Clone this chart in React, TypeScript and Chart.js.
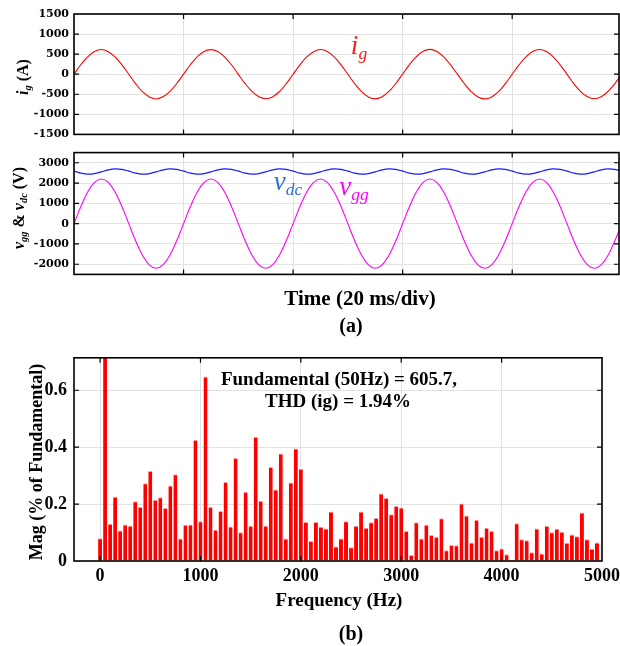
import React, { useEffect, useRef } from "react";
import { Chart, registerables } from "chart.js";
Chart.register(...registerables);

// ---------- data ----------
const timeMs = [
  0, 1.25, 2.5, 3.75, 5, 6.25, 7.5, 8.75, 10, 11.25, 12.5, 13.75, 15, 16.25, 17.5, 18.75,
  20, 21.25, 22.5, 23.75, 25, 26.25, 27.5, 28.75, 30, 31.25, 32.5, 33.75, 35, 36.25, 37.5, 38.75,
  40, 41.25, 42.5, 43.75, 45, 46.25, 47.5, 48.75, 50, 51.25, 52.5, 53.75, 55, 56.25, 57.5, 58.75,
  60, 61.25, 62.5, 63.75, 65, 66.25, 67.5, 68.75, 70, 71.25, 72.5, 73.75, 75, 76.25, 77.5, 78.75,
  80, 81.25, 82.5, 83.75, 85, 86.25, 87.5, 88.75, 90, 91.25, 92.5, 93.75, 95, 96.25, 97.5, 98.75,
  100,
];

const igAmps = [
  0, 236, 432, 566, 615, 562, 430, 232, 0, -236, -436, -566, -618, -560, -432, -232,
  2, 236, 434, 568, 612, 566, 428, 236, -4, -236, -430, -564, -610, -566, -432, -236,
  0, 234, 432, 562, 614, 566, 434, 234, -2, -238, -434, -566, -616, -562, -430, -232,
  4, 238, 436, 570, 618, 564, 430, 232, 0, -232, -432, -568, -614, -566, -434, -236,
  -2, 232, 430, 566, 616, 568, 432, 234, 2, -236, -432, -562, -612, -564, -428, -234,
  0,
];

const vggVolts = [
  0, 842, 1556, 2033, 2200, 2033, 1556, 842, 0, -842, -1556, -2033, -2200, -2033, -1556, -842,
  0, 842, 1556, 2033, 2200, 2033, 1556, 842, 0, -842, -1556, -2033, -2200, -2033, -1556, -842,
  0, 842, 1556, 2033, 2200, 2033, 1556, 842, 0, -842, -1556, -2033, -2200, -2033, -1556, -842,
  0, 842, 1556, 2033, 2200, 2033, 1556, 842, 0, -842, -1556, -2033, -2200, -2033, -1556, -842,
  0, 842, 1556, 2033, 2200, 2033, 1556, 842, 0, -842, -1556, -2033, -2200, -2033, -1556, -842,
  0,
];

const vdcVolts = [
  2586, 2490, 2441, 2467, 2554, 2650, 2699, 2673, 2586, 2490, 2441, 2467, 2554, 2650, 2699, 2673,
  2586, 2490, 2441, 2467, 2554, 2650, 2699, 2673, 2586, 2490, 2441, 2467, 2554, 2650, 2699, 2673,
  2586, 2490, 2441, 2467, 2554, 2650, 2699, 2673, 2586, 2490, 2441, 2467, 2554, 2650, 2699, 2673,
  2586, 2490, 2441, 2467, 2554, 2650, 2699, 2673, 2586, 2490, 2441, 2467, 2554, 2650, 2699, 2673,
  2586, 2490, 2441, 2467, 2554, 2650, 2699, 2673, 2586, 2490, 2441, 2467, 2554, 2650, 2699, 2673,
  2586,
];

const freqHz = [
  0, 50, 100, 150, 200, 250, 300, 350, 400, 450, 500, 550, 600, 650, 700, 750, 800, 850, 900, 950,
  1000, 1050, 1100, 1150, 1200, 1250, 1300, 1350, 1400, 1450, 1500, 1550, 1600, 1650, 1700, 1750, 1800, 1850, 1900, 1950,
  2000, 2050, 2100, 2150, 2200, 2250, 2300, 2350, 2400, 2450, 2500, 2550, 2600, 2650, 2700, 2750, 2800, 2850, 2900, 2950,
  3000, 3050, 3100, 3150, 3200, 3250, 3300, 3350, 3400, 3450, 3500, 3550, 3600, 3650, 3700, 3750, 3800, 3850, 3900, 3950,
  4000, 4050, 4100, 4150, 4200, 4250, 4300, 4350, 4400, 4450, 4500, 4550, 4600, 4650, 4700, 4750, 4800, 4850, 4900, 4950,
];

const magPct = [
  0.080, 100, 0.131, 0.226, 0.107, 0.128, 0.124, 0.210, 0.190, 0.273, 0.316, 0.215, 0.224, 0.186, 0.265, 0.305, 0.079, 0.127, 0.128, 0.426,
  0.140, 0.648, 0.190, 0.110, 0.176, 0.278, 0.121, 0.362, 0.101, 0.243, 0.124, 0.437, 0.212, 0.124, 0.330, 0.251, 0.378, 0.079, 0.276, 0.395,
  0.324, 0.137, 0.070, 0.137, 0.120, 0.114, 0.174, 0.051, 0.079, 0.140, 0.048, 0.124, 0.174, 0.117, 0.136, 0.151, 0.237, 0.221, 0.164, 0.193,
  0.188, 0.105, 0.021, 0.136, 0.079, 0.127, 0.091, 0.084, 0.150, 0.038, 0.056, 0.055, 0.202, 0.160, 0.065, 0.145, 0.085, 0.117, 0.105, 0.038,
  0.044, 0.024, 0.003, 0.133, 0.076, 0.073, 0.031, 0.114, 0.026, 0.124, 0.101, 0.113, 0.103, 0.064, 0.093, 0.087, 0.170, 0.076, 0.043, 0.065,
];

const timeTicks = [0, 20, 40, 60, 80];
const igTicks = [-1500, -1000, -500, 0, 500, 1000, 1500];
const vTicks = [-2000, -1000, 0, 1000, 2000, 3000];
const freqTicks = [0, 1000, 2000, 3000, 4000, 5000];
const magTicks = [0, 0.2, 0.4, 0.6];

const timeRange = { min: 0, max: 99.5 };
const igRange = { min: -1500, max: 1500 };
const vRange = { min: -2500, max: 3500 };
const freqRange = { min: -260, max: 5000 };
const magRange = { min: 0, max: 0.714 };

// ---------- styling helpers ----------
const SERIF = "'Liberation Serif', 'Times New Roman', serif";
const GRID = "#e2e2e2";

const fixTicks = (vals: number[]) => (s: any) => {
  s.ticks = vals.map((v) => ({ value: v }));
};
const plainLabel = (v: any) => String(Math.round(Number(v) * 1000) / 1000);

const framePlugin = {
  id: "frame",
  afterDraw(chart: any) {
    const { ctx, chartArea: a } = chart;
    ctx.save();
    const len = 5;
    ctx.strokeStyle = "#000";
    ctx.lineWidth = 1.2;
    ctx.beginPath();
    const xs = chart.scales.x;
    const ys = chart.scales.y;
    xs.ticks.forEach((t: any) => {
      const p = xs.getPixelForValue(t.value);
      if (p <= a.left + 1 || p >= a.right - 1) return;
      ctx.moveTo(p, a.bottom);
      ctx.lineTo(p, a.bottom - len);
      ctx.moveTo(p, a.top);
      ctx.lineTo(p, a.top + len);
    });
    ys.ticks.forEach((t: any) => {
      const p = ys.getPixelForValue(t.value);
      if (p <= a.top + 1 || p >= a.bottom - 1) return;
      ctx.moveTo(a.left, p);
      ctx.lineTo(a.left + len, p);
      ctx.moveTo(a.right, p);
      ctx.lineTo(a.right - len, p);
    });
    ctx.stroke();
    ctx.lineWidth = 1.6;
    ctx.strokeRect(a.left, a.top, a.right - a.left, a.bottom - a.top);
    ctx.restore();
  },
};

function ChartCanvas({ top, height, make }: { top: number; height: number; make: () => any }) {
  const ref = useRef<HTMLCanvasElement>(null);
  useEffect(() => {
    const c = new Chart(ref.current as HTMLCanvasElement, make());
    return () => c.destroy();
  }, []);
  return (
    <canvas
      ref={ref}
      width={620}
      height={height}
      style={{ position: "absolute", left: 0, top, width: 620, height }}
    />
  );
}

const smallTickFont = { family: "'DejaVu Serif', serif", weight: "bold" as const, size: 11 };

function timePanel(datasets: any[], yr: { min: number; max: number }, yTicks: number[], pad: any) {
  return {
    type: "line",
    data: { datasets },
    options: {
      responsive: false,
      animation: false,
      layout: { padding: pad },
      plugins: { legend: { display: false }, tooltip: { enabled: false } },
      scales: {
        x: {
          type: "linear",
          min: timeRange.min,
          max: timeRange.max,
          afterBuildTicks: fixTicks(timeTicks),
          ticks: { display: false },
          grid: { color: GRID, drawTicks: false },
          border: { display: false },
          afterFit: (s: any) => {
            s.height = 0;
          },
        },
        y: {
          min: yr.min,
          max: yr.max,
          afterBuildTicks: fixTicks(yTicks),
          ticks: { font: smallTickFont, color: "#000", padding: 5, callback: plainLabel },
          grid: { color: GRID, drawTicks: false },
          border: { display: false },
          afterFit: (s: any) => {
            s.width = 74;
          },
        },
      },
    },
    plugins: [framePlugin],
  };
}

const makeIg = () =>
  timePanel(
    [
      {
        data: timeMs.map((t, i) => ({ x: t, y: igAmps[i] })),
        borderColor: "#ff0000",
        borderWidth: 1.1,
        pointRadius: 0,
        tension: 0.4,
      },
    ],
    igRange,
    igTicks,
    { top: 14, bottom: 9, left: 0, right: 1 }
  );

const makeV = () =>
  timePanel(
    [
      {
        data: timeMs.map((t, i) => ({ x: t, y: vdcVolts[i] })),
        borderColor: "#1a1aff",
        borderWidth: 1.2,
        pointRadius: 0,
        tension: 0.4,
      },
      {
        data: timeMs.map((t, i) => ({ x: t, y: vggVolts[i] })),
        borderColor: "#ff00ff",
        borderWidth: 1.1,
        pointRadius: 0,
        tension: 0.4,
      },
    ],
    vRange,
    vTicks,
    { top: 8, bottom: 10, left: 0, right: 1 }
  );

const bigTickFont = { family: SERIF, weight: "bold" as const, size: 18 };

const makeFFT = () => ({
  type: "bar",
  data: {
    datasets: [
      {
        data: freqHz.map((f, i) => ({ x: f, y: magPct[i] })),
        backgroundColor: "#ff0000",
        borderColor: "#ff9d9d",
        borderWidth: { top: 1, left: 0, right: 0, bottom: 0 },
        borderSkipped: "bottom",
        barPercentage: 0.8,
        categoryPercentage: 1,
      },
    ],
  },
  options: {
    responsive: false,
    animation: false,
    layout: { padding: { top: 17, bottom: 55, left: 0, right: 18 } },
    plugins: { legend: { display: false }, tooltip: { enabled: false } },
    scales: {
      x: {
        type: "linear",
        offset: false,
        min: freqRange.min,
        max: freqRange.max,
        afterBuildTicks: fixTicks(freqTicks),
        ticks: { font: bigTickFont, color: "#000", padding: 5, maxRotation: 0, autoSkip: false, callback: plainLabel },
        grid: { color: GRID, drawTicks: false, offset: false },
        border: { display: false },
        afterFit: (s: any) => {
          s.height = 30;
          s.paddingRight = 0;
          s.paddingLeft = 0;
        },
      },
      y: {
        min: magRange.min,
        max: magRange.max,
        afterBuildTicks: fixTicks(magTicks),
        ticks: { font: bigTickFont, color: "#000", padding: 7, callback: plainLabel },
        grid: { color: GRID, drawTicks: false },
        border: { display: false },
        afterFit: (s: any) => {
          s.width = 74;
        },
      },
    },
  },
  plugins: [framePlugin],
});

function Label({
  x,
  y,
  rot,
  style,
  children,
}: {
  x: number;
  y: number;
  rot?: boolean;
  style?: React.CSSProperties;
  children: React.ReactNode;
}) {
  return (
    <div
      style={{
        position: "absolute",
        left: x,
        top: y,
        transform: `translate(-50%, -50%)${rot ? " rotate(-90deg)" : ""}`,
        whiteSpace: "nowrap",
        lineHeight: 1,
        fontFamily: SERIF,
        fontWeight: "bold",
        color: "#000",
        ...style,
      }}
    >
      {children}
    </div>
  );
}

const subStyle: React.CSSProperties = { fontSize: "0.65em", verticalAlign: "-0.3em" };
const symStyle: React.CSSProperties = { fontWeight: "normal", fontStyle: "italic", fontSize: 27 };

export default function App() {
  return (
    <div style={{ position: "absolute", left: 0, top: 0, width: 620, height: 646, background: "#fff", overflow: "hidden" }}>
      <ChartCanvas top={0} height={146} make={makeIg} />
      <ChartCanvas top={141} height={145} make={makeV} />
      <ChartCanvas top={340} height={306} make={makeFFT} />

      <Label x={24} y={77} rot style={{ fontSize: 16 }}>
        <i>i</i>
        <sub style={subStyle}><i>g</i></sub> (A)
      </Label>
      <Label x={20} y={208} rot style={{ fontSize: 16 }}>
        <i>v</i>
        <sub style={subStyle}><i>gg</i></sub> &amp; <i>v</i>
        <sub style={subStyle}><i>dc</i></sub> (V)
      </Label>

      <Label x={359} y={47} style={{ ...symStyle, color: "#ff1a1a" }}>
        i<sub style={subStyle}>g</sub>
      </Label>
      <Label x={288} y={183} style={{ ...symStyle, color: "#2a6fd6" }}>
        v<sub style={subStyle}>dc</sub>
      </Label>
      <Label x={354} y={188} style={{ ...symStyle, color: "#ff00ff" }}>
        v<sub style={subStyle}>gg</sub>
      </Label>

      <Label x={360} y={298} style={{ fontSize: 21 }}>Time (20 ms/div)</Label>
      <Label x={351} y={325} style={{ fontSize: 20 }}>(a)</Label>

      <Label x={339} y={378} style={{ fontSize: 19 }}>Fundamental (50Hz) = 605.7,</Label>
      <Label x={338} y={400} style={{ fontSize: 19 }}>THD (ig) = 1.94%</Label>

      <Label x={36} y={462} rot style={{ fontSize: 18 }}>Mag (% of Fundamental)</Label>
      <Label x={339} y={599} style={{ fontSize: 19 }}>Frequency (Hz)</Label>
      <Label x={351} y={633} style={{ fontSize: 20 }}>(b)</Label>
    </div>
  );
}
